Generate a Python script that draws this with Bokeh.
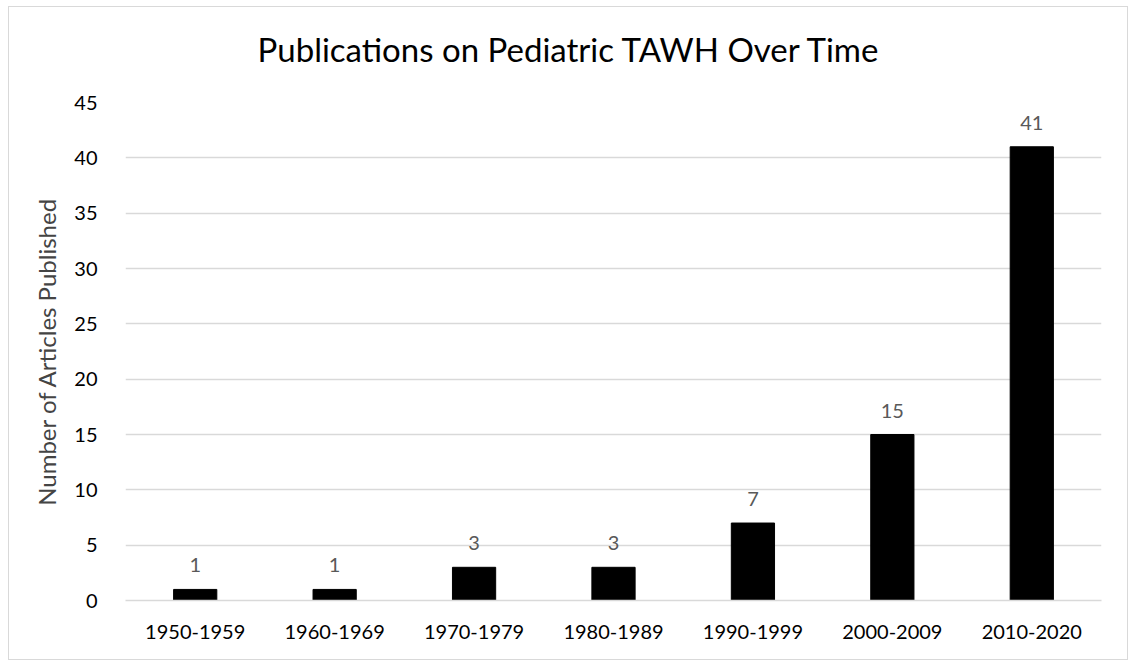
from bokeh.plotting import figure
from bokeh.models import Range1d, ColumnDataSource, FactorRange, SingleIntervalTicker, Div
from bokeh.layouts import column
from bokeh.embed import file_html
from bokeh.resources import INLINE

decades = ["1950-1959", "1960-1969", "1970-1979", "1980-1989", "1990-1999", "2000-2009", "2010-2020"]
counts = [1, 1, 3, 3, 7, 15, 41]
title_text = "Publications on Pediatric TAWH Over Time"

FONT = "Lato"
src = ColumnDataSource(dict(x=decades, y=counts, lab=[str(c) for c in counts]))

head = Div(text=('<div style="font-family:Lato;font-size:33px;color:#000000;text-align:center;'
                 'width:1118px;height:84px;line-height:84px;margin:0;padding:0;">' + title_text + '</div>'),
           width=1118, height=84, margin=0)

p = figure(x_range=FactorRange(*decades, range_padding=0), y_range=Range1d(0, 45),
           width=1118, height=568, output_backend="svg", toolbar_location=None,
           min_border_left=116, min_border_right=26, min_border_top=11, min_border_bottom=59)
p.margin = 0
p.vbar(x="x", top="y", width=0.31, source=src, fill_color="black", line_color="black")
p.text(x="x", y="y", text="lab", source=src, text_align="center", text_baseline="bottom",
       y_offset=-17, text_color="#595959", text_font_size="20px", text_font={"value": FONT})

p.outline_line_color = None
p.xgrid.grid_line_color = None
p.ygrid.grid_line_color = "#d9d9d9"
p.ygrid.grid_line_width = 1.5
p.yaxis.ticker = SingleIntervalTicker(interval=5)
for ax in (p.xaxis, p.yaxis):
    ax.axis_line_color = None
    ax.major_tick_line_color = None
    ax.minor_tick_line_color = None
    ax.major_label_text_font = FONT
    ax.major_label_text_font_size = "20px"
    ax.major_label_text_color = "#000000"
p.xaxis.axis_line_color = "#d9d9d9"
p.xaxis.axis_line_width = 1.5
p.xaxis.major_label_standoff = 18
p.yaxis.major_label_standoff = 22
p.yaxis.axis_label = "Number of Articles Published"
p.yaxis.axis_label_text_font = FONT
p.yaxis.axis_label_text_font_size = "24px"
p.yaxis.axis_label_text_font_style = "normal"
p.yaxis.axis_label_standoff = 10

layout = column(head, p, spacing=0)
layout.margin = (6, 0, 0, 8)
layout.styles = {"border": "1px solid #d9d9d9", "background-color": "#ffffff"}

open("out.html", "w").write(file_html(layout, INLINE))
